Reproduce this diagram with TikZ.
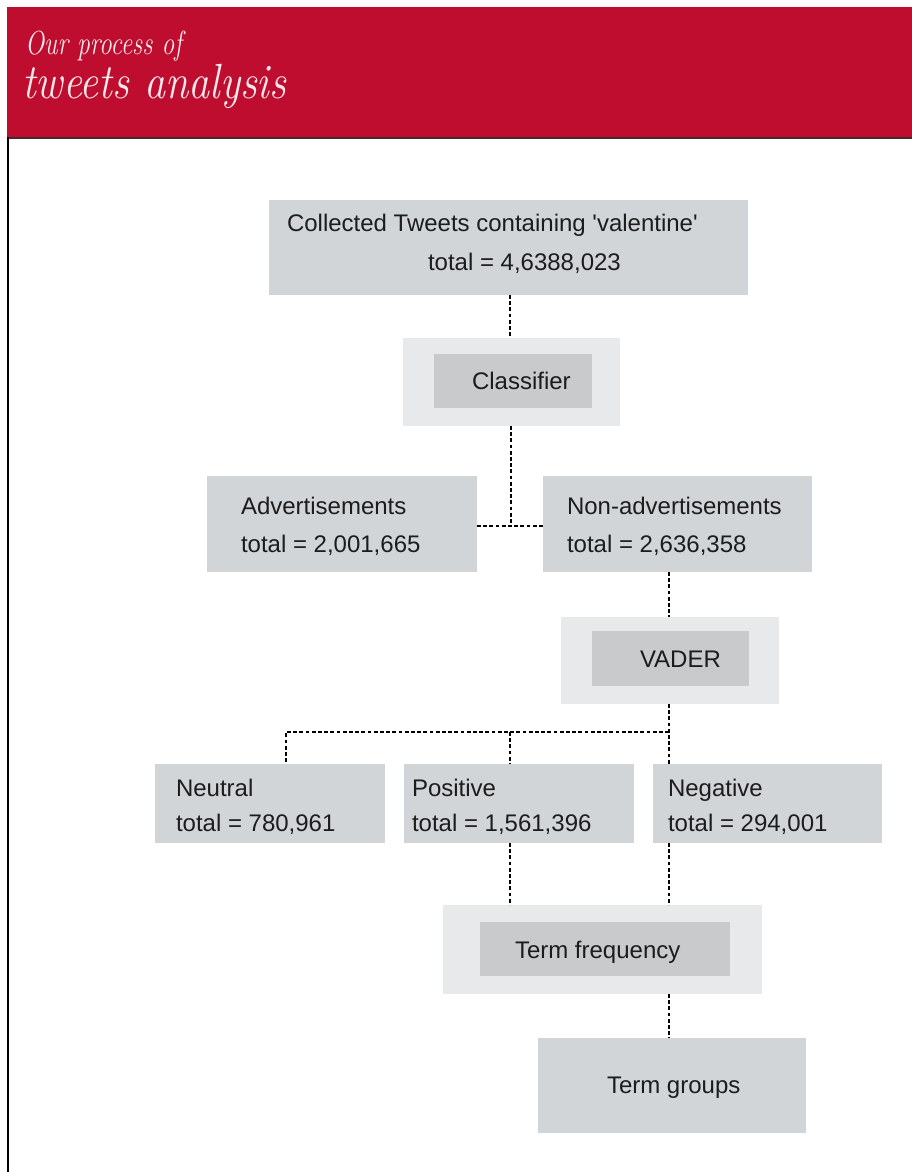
\documentclass[tikz,border=0pt]{standalone}
\usepackage{fontspec}
\newfontfamily\sansf{Liberation Sans}
\usepackage{graphicx}
\definecolor{hdrred}{RGB}{190,13,46}
\definecolor{hdrline}{RGB}{70,40,45}
\definecolor{hdrtext}{RGB}{250,232,236}
\definecolor{boxgray}{RGB}{210,213,216}
\definecolor{outergray}{RGB}{232,233,234}
\definecolor{innergray}{RGB}{200,202,204}
\definecolor{textcol}{RGB}{28,28,28}
\newcommand\rbox[6]{\node[#2, minimum width={(#5-#3)*1pt}, minimum height={(#6-#4)*1pt}] (#1) at ({(#3+#5)/2},{(#4+#6)/2}) {};}
\begin{document}
\begin{tikzpicture}[x=1pt,y=-1pt,
  box/.style={rectangle, inner sep=0pt, outer sep=0pt, fill=boxgray},
  outerbox/.style={rectangle, inner sep=0pt, outer sep=0pt, fill=outergray},
  innerbox/.style={rectangle, inner sep=0pt, outer sep=0pt, fill=innergray},
  lbl/.style={anchor=base west, inner sep=0pt, outer sep=0pt, font=\sansf\fontsize{24}{28}\selectfont, text=textcol},
  hdr/.style={anchor=base west, inner sep=0pt, outer sep=0pt, text=hdrtext},
  conn/.style={draw=black, line width=1.4pt, dash pattern=on 3.8pt off 2.4pt},
]
\useasboundingbox (0,0) rectangle (912,1172);
\fill[white] (0,0) rectangle (912,1172);
\fill[hdrred] (7,7) rectangle (912,137);
\draw[line width=2pt, hdrline] (7,138) -- (912,138);
\draw[line width=2.2pt, black] (8,137) -- (8,1172);

% header titles
\node[hdr, font=\itshape\fontsize{29}{31}\selectfont] (h1) at (25,55) {\scalebox{0.88}[1.15]{Our process of}};
\node[hdr, font=\itshape\fontsize{43}{46}\selectfont] (h2) at (22,98) {\scalebox{0.98}[1.15]{tweets analysis}};

% boxes
\rbox{col}{box}{269}{200}{748}{295}
\rbox{clsO}{outerbox}{403}{338}{620}{426}
\rbox{clsI}{innerbox}{434}{354}{592}{408}
\rbox{adv}{box}{207}{476}{477}{572}
\rbox{nadv}{box}{543}{476}{812}{572}
\rbox{vadO}{outerbox}{561}{617}{779}{704}
\rbox{vadI}{innerbox}{592}{631}{749}{686}
\rbox{neu}{box}{155}{764}{385}{843}
\rbox{pos}{box}{404}{764}{634}{843}
\rbox{neg}{box}{653}{764}{882}{843}
\rbox{tfO}{outerbox}{443}{905}{762}{994}
\rbox{tfI}{innerbox}{480}{922}{730}{976}
\rbox{tg}{box}{538}{1038}{806}{1133}

% texts
\node[lbl] (t1) at (287,231) {Collected Tweets containing \textquotesingle valentine\textquotesingle};
\node[lbl] (t2) at (428,270) {total = 4,6388,023};
\node[lbl] (t3) at (472,389) {Classifier};
\node[lbl] (t4) at (241,514) {Advertisements};
\node[lbl] (t5) at (241,552) {total = 2,001,665};
\node[lbl] (t6) at (567,514) {Non-advertisements};
\node[lbl] (t7) at (567,552) {total = 2,636,358};
\node[lbl] (t8) at (640,667) {VADER};
\node[lbl] (t9) at (176,796) {Neutral};
\node[lbl] (t10) at (176,831) {total = 780,961};
\node[lbl] (t11) at (412,796) {Positive};
\node[lbl] (t12) at (412,831) {total = 1,561,396};
\node[lbl] (t13) at (668,796) {Negative};
\node[lbl] (t14) at (668,831) {total = 294,001};
\node[lbl] (t15) at (515,958) {Term frequency};
\node[lbl] (t16) at (607,1093) {Term groups};

% connectors
\coordinate (cL) at (510,0);
\coordinate (cR) at (669,0);
\coordinate (ja) at (511,526);
\coordinate (jn) at (286,732);
\draw[conn] (col.south -| cL) -- (clsO.north -| cL);
\draw[conn] (clsO.south -| ja) -- (ja);
\draw[conn] (adv.east |- ja) -- (nadv.west |- ja);
\draw[conn] (nadv.south -| cR) -- (vadO.north -| cR);
\draw[conn] (vadO.south -| cR) -- (neg.north -| cR);
\draw[conn] (jn -| cR) -- (jn) -- (neu.north -| jn);
\draw[conn] (jn -| cL) -- (pos.north -| cL);
\draw[conn] (pos.south -| cL) -- (tfO.north -| cL);
\draw[conn] (neg.south -| cR) -- (tfO.north -| cR);
\draw[conn] (tfO.south -| cR) -- (tg.north -| cR);
\end{tikzpicture}
\end{document}
